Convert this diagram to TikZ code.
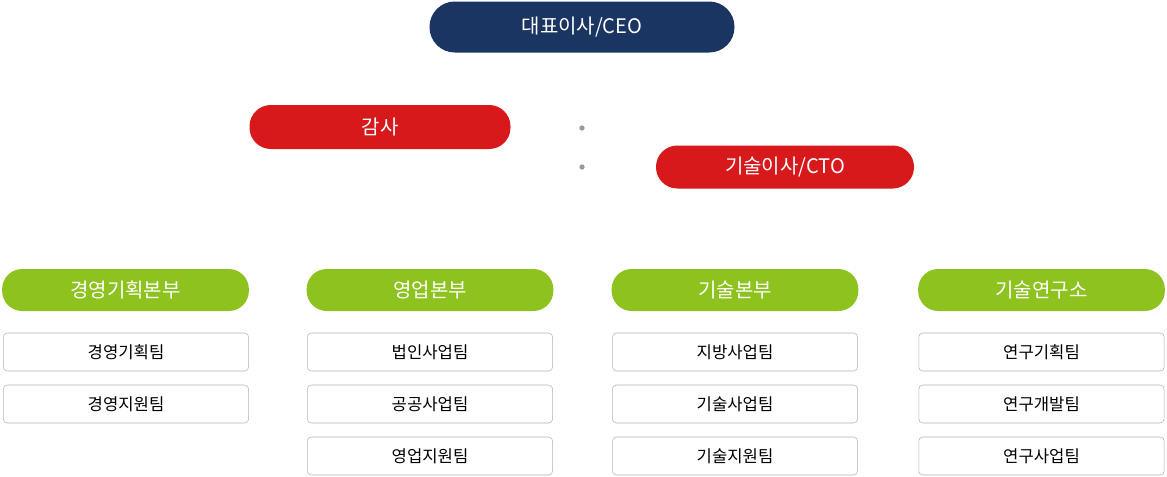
\documentclass[tikz,border=0pt]{standalone}
\usepackage{fontspec}
\setmainfont{Noto Sans CJK KR}
\usetikzlibrary{positioning}
\definecolor{navy}{HTML}{1B3563}
\definecolor{redbox}{HTML}{D7191C}
\definecolor{greenbox}{HTML}{8DC21F}
\tikzset{
  pill/.style={rectangle, rounded corners=16pt, text=white, font=\fontsize{15}{15}\selectfont, inner sep=0pt},
  head/.style={pill, fill=greenbox, minimum width=185pt, minimum height=31.5pt, rounded corners=15pt},
  team/.style={rectangle, rounded corners=3pt, draw=gray!60, fill=white, minimum width=184pt, minimum height=28.5pt, font=\fontsize{12.5}{12.5}\selectfont, inner sep=0pt},
  dot/.style={circle, fill=gray!80, inner sep=0pt, minimum size=4pt}
}
\begin{document}
\begin{tikzpicture}[x=0.75pt,y=-0.75pt]
\useasboundingbox (0,0) rectangle (1167,476);

\node (ceo) [pill, fill=navy, minimum width=228.75pt, minimum height=38.25pt, rounded corners=19pt] at (582,27) {대표이사/CEO};
\node (audit) [pill, fill=redbox, minimum width=195.75pt, minimum height=33pt] at (380,127) {감사};
\node (cto) [pill, fill=redbox, minimum width=193.5pt, minimum height=32.25pt] at (785,167) {기술이사/CTO};
\node (dot1) [dot] at (582,128) {};
\node (dot2) [dot] at (582,167) {};

% divisions
\node (mgmt) [head] at (125.5,290) {경영기획본부};
\node (sales) [head] at (430,290) {영업본부};
\node (tech) [head] at (735,290) {기술본부};
\node (lab) [head] at (1041.5,290) {기술연구소};

% teams
\node (mgmt1) [team] at (126,352) {경영기획팀};
\node (mgmt2) [team] at (126,404) {경영지원팀};

\node (sales1) [team] at (430,352) {법인사업팀};
\node (sales2) [team] at (430,404) {공공사업팀};
\node (sales3) [team] at (430,456) {영업지원팀};

\node (tech1) [team] at (735,352) {지방사업팀};
\node (tech2) [team] at (735,404) {기술사업팀};
\node (tech3) [team] at (735,456) {기술지원팀};

\node (lab1) [team] at (1041.5,352) {연구기획팀};
\node (lab2) [team] at (1041.5,404) {연구개발팀};
\node (lab3) [team] at (1041.5,456) {연구사업팀};

\end{tikzpicture}
\end{document}
